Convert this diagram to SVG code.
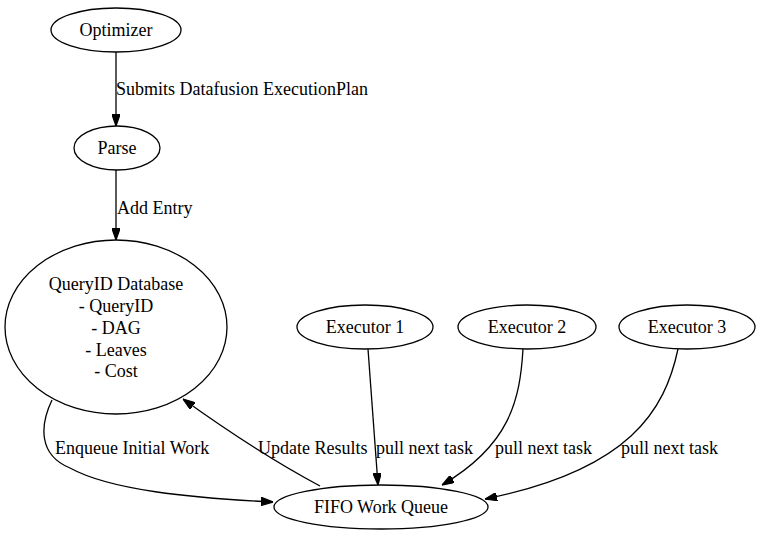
<svg xmlns="http://www.w3.org/2000/svg" width="762" height="535" viewBox="0 0 762 535">
<style>
.n{fill:none;stroke:#000;stroke-width:1.3}
.e{fill:none;stroke:#000;stroke-width:1.3}
.t{font-family:'Liberation Serif','Times New Roman',serif;font-size:18px;fill:#000}
.c{text-anchor:middle}
</style>
<defs>
<marker id="arr" viewBox="0 0 10 7" refX="10" refY="3.5" markerWidth="12" markerHeight="8.4" markerUnits="userSpaceOnUse" orient="auto">
<path d="M0,0 L10,3.5 L0,7 Z" fill="#000" stroke="#000" stroke-width="1"/>
</marker>
</defs>
<rect width="762" height="535" fill="#fff"/>
<g id="edges" class="t" font-family="Liberation Serif, serif" font-size="18">
<path class="e" d="M116,52 L116,126" marker-end="url(#arr)"/>
<text x="116" y="95">Submits Datafusion ExecutionPlan</text>
<path class="e" d="M116,170 L116,240" marker-end="url(#arr)"/>
<text x="117" y="214">Add Entry</text>
<path class="e" d="M52,400 C40,425 38,455 70,468 C110,490 190,498 273,502" marker-end="url(#arr)"/>
<text x="55" y="454">Enqueue Initial Work</text>
<path class="e" d="M320,486 C290,470 240,440 183,399" marker-end="url(#arr)"/>
<text x="258" y="454">Update Results</text>
<path class="e" d="M368,349 L378,485" marker-end="url(#arr)"/>
<text x="376" y="454">pull next task</text>
<path class="e" d="M523,349 C520,400 510,445 442,485" marker-end="url(#arr)"/>
<text x="495" y="454">pull next task</text>
<path class="e" d="M678,349 C665,410 630,470 485,499" marker-end="url(#arr)"/>
<text x="621" y="454">pull next task</text>
</g>
<g class="t" font-family="Liberation Serif, serif" font-size="18">
<g id="optimizer"><ellipse class="n" cx="116" cy="30" rx="65" ry="22"/><text class="c" x="116" y="36">Optimizer</text></g>
<g id="parse"><ellipse class="n" cx="117" cy="148" rx="43" ry="22"/><text class="c" x="117" y="154">Parse</text></g>
<g id="querydb"><ellipse class="n" cx="116" cy="327" rx="111" ry="87"/>
<text class="c" x="116" y="290">QueryID Database</text>
<text class="c" x="116" y="312">- QueryID</text>
<text class="c" x="116" y="334">- DAG</text>
<text class="c" x="116" y="356">- Leaves</text>
<text class="c" x="116" y="377">- Cost</text></g>
<g id="executor1"><ellipse class="n" cx="365" cy="327" rx="68" ry="22"/><text class="c" x="365" y="333">Executor 1</text></g>
<g id="executor2"><ellipse class="n" cx="527" cy="327" rx="69" ry="22"/><text class="c" x="527" y="333">Executor 2</text></g>
<g id="executor3"><ellipse class="n" cx="687" cy="327" rx="68" ry="22"/><text class="c" x="687" y="333">Executor 3</text></g>
<g id="fifo"><ellipse class="n" cx="381" cy="507" rx="107" ry="22"/><text class="c" x="381" y="513">FIFO Work Queue</text></g>
</g>
</svg>
